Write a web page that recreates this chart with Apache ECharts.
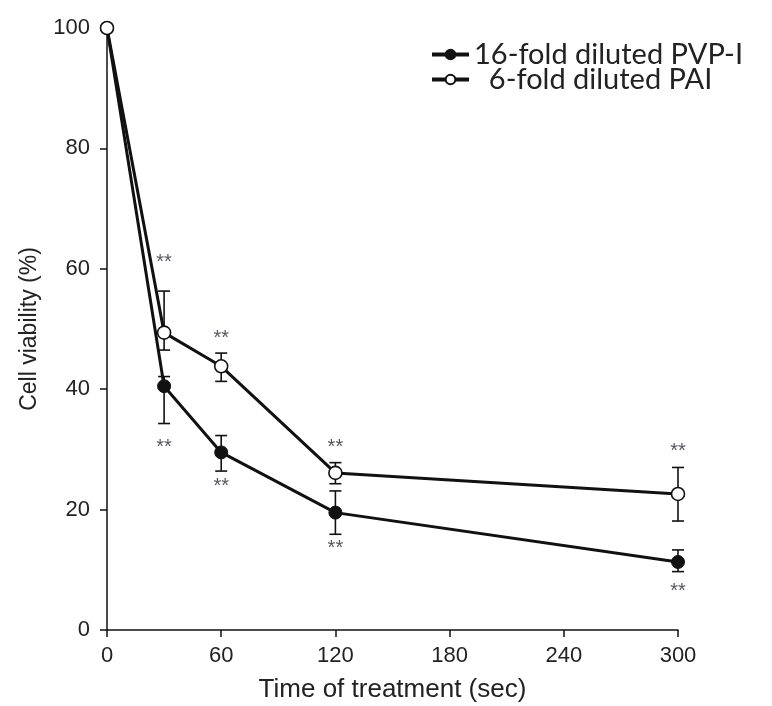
<!DOCTYPE html>
<html>
<head>
<meta charset="utf-8">
<script src="https://cdn.jsdelivr.net/npm/echarts@6/dist/echarts.min.js"></script>
<style>
  html, body { margin: 0; padding: 0; background: #fff; }
  #chart { width: 772px; height: 706px; }
</style>
</head>
<body>
<div id="chart"></div>
<script>
// Treatment time (sec) and tick values
const times = [0, 30, 60, 120, 300];
const xTicks = [0, 60, 120, 180, 240, 300];
const yTicks = [0, 20, 40, 60, 80, 100];

// 16-fold diluted PVP-I: mean and error-bar ends (%)
const pvpMean = [100, 40.5, 29.5, 19.5, 11.3];
const pvpLow  = [null, 34.3, 26.4, 15.9, 9.7];
const pvpHigh = [null, 42.1, 32.3, 23.1, 13.3];

// 6-fold diluted PAI: mean and error-bar ends (%)
const paiMean = [100, 49.4, 43.8, 26.1, 22.6];
const paiLow  = [null, 46.5, 41.3, 24.3, 18.1];
const paiHigh = [null, 56.3, 46.0, 27.8, 27.0];

// Height (%) at which each "**" significance mark sits
const pvpStarY = [null, 31.2, 24.6, 14.4, 7.3];
const paiStarY = [null, 61.8, 49.2, 31.2, 30.5];

const seriesNames = ['16-fold diluted PVP-I', '6-fold diluted PAI'];

const pairs = (ys) => times.map((t, i) => [t, ys[i]]);
const errRows = (lo, hi) => times.map((t, i) => [t, lo[i], hi[i]]).filter(r => r[1] != null);
const starRows = (ys) => times.map((t, i) => [t, ys[i]]).filter(r => r[1] != null);

function renderErr(params, api) {
  const x = api.value(0);
  const lo = api.coord([x, api.value(1)]);
  const hi = api.coord([x, api.value(2)]);
  const half = 6;
  const st = { stroke: '#111', lineWidth: 1.6 };
  return {
    type: 'group',
    children: [
      { type: 'line', shape: { x1: lo[0], y1: lo[1], x2: hi[0], y2: hi[1] }, style: st },
      { type: 'line', shape: { x1: lo[0] - half, y1: lo[1], x2: lo[0] + half, y2: lo[1] }, style: st },
      { type: 'line', shape: { x1: hi[0] - half, y1: hi[1], x2: hi[0] + half, y2: hi[1] }, style: st }
    ]
  };
}

const tickFont = { fontFamily: 'Liberation Sans', fontSize: 22, color: '#222' };
const starLabel = {
  show: true, position: 'inside', formatter: '**', offset: [0, 5],
  fontFamily: 'Liberation Sans', fontSize: 20, color: '#2b2b38'
};

const chart = echarts.init(document.getElementById('chart'), null, { renderer: 'canvas' });
chart.setOption({
  animation: false,
  backgroundColor: '#fff',
  grid: { left: 107, right: 94, top: 28, bottom: 76, containLabel: false, outerBoundsMode: 'none' },
  legend: {
    data: seriesNames,
    orient: 'vertical',
    left: 430,
    top: 40,
    padding: 0,
    itemWidth: 37,
    itemHeight: 12,
    itemGap: -4,
    lineStyle: { width: 4 },
    formatter: (n) => n === seriesNames[1] ? '  ' + n : n,
    textStyle: { fontFamily: 'Lato', fontSize: 29, lineHeight: 19, color: '#222', padding: [0, 0, 0, 0] }
  },
  xAxis: {
    type: 'value',
    min: xTicks[0],
    max: xTicks[xTicks.length - 1],
    interval: xTicks[1] - xTicks[0],
    name: 'Time of treatment (sec)',
    nameLocation: 'middle',
    nameGap: 47,
    nameTextStyle: { fontFamily: 'Liberation Sans', fontSize: 26, color: '#222' },
    axisLine: { lineStyle: { color: '#111', width: 1.5 } },
    axisTick: { length: 7, lineStyle: { color: '#111', width: 1.5 } },
    axisLabel: Object.assign({ margin: 15 }, tickFont),
    splitLine: { show: false }
  },
  yAxis: {
    type: 'value',
    min: yTicks[0],
    max: yTicks[yTicks.length - 1],
    interval: yTicks[1] - yTicks[0],
    name: 'Cell viability (%)',
    nameLocation: 'middle',
    nameGap: 66,
    nameTextStyle: { fontFamily: 'Liberation Sans', fontSize: 23, color: '#222' },
    axisLine: { show: true, lineStyle: { color: '#111', width: 1.5 } },
    axisTick: { show: true, length: 7, lineStyle: { color: '#111', width: 1.5 } },
    axisLabel: Object.assign({ margin: 17 }, tickFont),
    splitLine: { show: false }
  },
  series: [
    {
      type: 'custom', name: 'err-pvp', renderItem: renderErr,
      data: errRows(pvpLow, pvpHigh), encode: { x: 0, y: [1, 2] }, z: 1, silent: true
    },
    {
      type: 'custom', name: 'err-pai', renderItem: renderErr,
      data: errRows(paiLow, paiHigh), encode: { x: 0, y: [1, 2] }, z: 1, silent: true
    },
    {
      type: 'line', name: seriesNames[0], data: pairs(pvpMean), z: 3,
      symbol: 'circle', symbolSize: 13,
      lineStyle: { color: '#111', width: 3 },
      itemStyle: { color: '#111', borderColor: '#111', borderWidth: 1 }
    },
    {
      type: 'line', name: seriesNames[1], data: pairs(paiMean), z: 4,
      symbol: 'circle', symbolSize: 13,
      lineStyle: { color: '#111', width: 3 },
      itemStyle: { color: '#fff', borderColor: '#111', borderWidth: 1.6 }
    },
    {
      type: 'scatter', name: 'stars-pvp', data: starRows(pvpStarY), symbolSize: 0, z: 5, silent: true,
      label: starLabel
    },
    {
      type: 'scatter', name: 'stars-pai', data: starRows(paiStarY), symbolSize: 0, z: 5, silent: true,
      label: starLabel
    }
  ]
});
</script>
</body>
</html>
